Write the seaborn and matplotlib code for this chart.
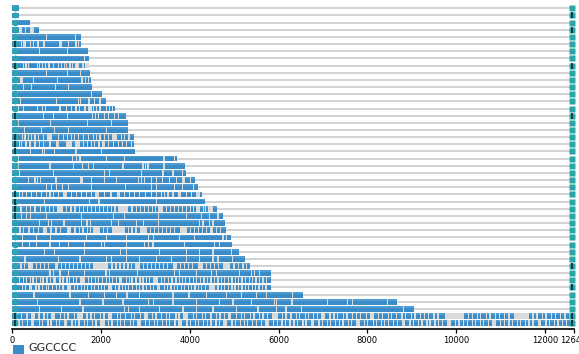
import matplotlib
matplotlib.use("Agg")
import matplotlib.pyplot as plt
import numpy as np
import pandas as pd
import seaborn as sns
from matplotlib.transforms import offset_copy
from matplotlib.patches import Rectangle

# ---------------- data ----------------
motif_name = "GGCCCC"
axis_end = 12640
tick_values = [0, 2000, 4000, 6000, 8000, 10000, 12000, 12640]
tick_labels = ["0", "2000", "4000", "6000", "8000", "10000", "12000", "12640"]

# extent of motif-covered region per sequence (top to bottom)
seq_lengths = [160, 160, 405, 607, 1550, 1550, 1710, 1730, 1730, 1750,
               1775, 1800, 2020, 2110, 2315, 2560, 2605, 2605, 2740, 2740,
               2765, 3710, 3890, 3910, 4110, 4180, 4270, 4340, 4610, 4740,
               4790, 4810, 4920, 4945, 5100, 5240, 5350, 5820, 5820, 5820,
               6540, 8670, 9055, 12640, 12640]

# rows whose start / end markers are dark
dark_start_rows = [5, 8, 15, 18, 19, 20, 26, 27, 28, 29, 43, 44]
dark_end_rows = [1, 3, 8, 15, 36, 39, 43, 44]

# gaps between motif hits per row (single value = thin gap, pair = wide gap)
gaps_01 = []
gaps_02 = []
gaps_03 = []
gaps_04 = [[160, 225], [295, 325], [405, 450], 475]
gaps_05 = [770, 1425]
gaps_06 = [218, [255, 308], 420, 480, [570, 615], 720, [1065, 1125], 1265, 1440, 1490]
gaps_07 = [615, 1250]
gaps_08 = [1625]
gaps_09 = [255, [300, 330], 367, 570, 615, 680, 750, [815, 850], 930, 1050, 1110, 1190,
           1230, 1305, 1355, [1415, 1500], 1600, 1665, [1695, 1730]]
gaps_10 = [770, 1245, 1550]
gaps_11 = [[180, 240], 480, 1020, 1575, 1650, 1725]
gaps_12 = [255, 443, 975, 1265]
gaps_13 = [1785]
gaps_14 = [195, 995, 1505, 1550, [1715, 1750], 1850, 1980]
gaps_15 = [140, 255, [555, 590], [670, 705], 760, [1065, 1110], 1230, 1340, 1440, 1515,
           [1620, 1665], [1715, 1790], 1830, 1905, 1980, 2130, 2200, 2265]
gaps_16 = [705, 930, 1245, 1815, 1880, 1940, 2090, 2165, 2315, 2390]
gaps_17 = [140, 870, 1695, 2240]
gaps_18 = [275, 660, 950, 1265, 2130]
gaps_19 = [240, 290, 367, 443, 517, 592, 705, [780, 890], 1040, 1155, [1230, 1265], 1340,
           1415, 1490, 1605, 1715, 1830, 1905, 1980, 2090, 2165, [2240, 2355], 2465, 2540,
           [2615, 2650]]
gaps_20 = [165, 218, 315, 405, 517, 615, 705, 855, [990, 1065], [1215, 1340], [1415, 1530],
           1605, 1695, 1790, 1865, 1960, [2015, 2090], 2165, 2280, 2390, 2490, 2580, 2690]
gaps_21 = [420, 690, 740, 965, 1440, 2015]
gaps_22 = [140, 1365, 1455, 1530, 2130, 2525, 3420, 3665]
gaps_23 = [140, 855, 1380, 1590, 1715, 1840, 2500, 2950, 3000, 3060, 3420]
gaps_24 = [165, 930, 2090, 2200, 2915, 3400, 3625, 3835]
gaps_25 = [367, 517, 570, 645, 990, [1530, 1590], 1790, 2090, 2355, 2840, 2915, 2990, 3140,
           3250, 3385, 3550, 3700, [3835, 3890], 4015]
gaps_26 = [780, 890, 1005, 1140, 1265, 1790, 2560, 3140, 3250, 3665, 3835, 4090]
gaps_27 = [164, 240, 330, 443, 555, 668, 780, 854, 929, 1040, [1153, 1229], 1341, 1454, 1566,
           1679, 1791, [1865, 1962], 2090, [2202, 2240], [2353, 2427], 2540, 2652, 2765, 2877,
           [2990, 3027], 3139, 3252, 3364, 3438, 3513, 3625, [3737, 3813], 3925, 4038, [4150, 4225]]
gaps_28 = [740, 1740, 1960, 3250]
gaps_29 = [200, 330, 420, 520, 640, 760, 850, 940, [1005, 1155], 1230, 1330, 1420, 1520, 1610,
           1700, 1790, 1880, 1970, 2060, 2150, 2240, 2320, [2390, 2610], 2700, 2800, 2890, 2980,
           3070, 3160, 3230, [3290, 3400], 3480, 3570, 3660, 3750, 3840, 3930, 4020, 4090,
           [4150, 4225], 4310, 4360, [4410, 4525]]
gaps_30 = [218, 330, 420, 780, 1565, 2290, 2540, 3290, 3925, 4260, 4450, 4635]
gaps_31 = [615, 815, 890, 1170, 1565, 1690, 1770, 2240, 2390, 2800, 2965, 3290, 4225, 4300,
           4450, 4525]
gaps_32 = [180, 260, 380, 480, 600, [700, 785], 880, 990, 1100, [1230, 1325], 1420, 1520, 1600,
           1700, 1760, [1830, 1980], 2060, 2150, [2240, 2540], 2620, 2700, 2790, [2875, 3030],
           3110, 3200, 3290, 3380, 3470, 3560, 3650, [3775, 3930], 4010, 4100, 4190, 4280, 4370,
           [4450, 4520], 4600, 4700]
gaps_33 = [240, 555, 870, 1680, 2130, 2580, 3065, 3190, 3775, 4110, 4750, 4825]
gaps_34 = [240, 390, 555, 855, 1065, 1265, 1640, 2015, 2090, 2580, 2990, 3065, 3175, 3890,
           4560, 4675]
gaps_35 = [740, 965, 1640, 2440, 2580, 3325, 3925, 4225, 4525, 4935]
gaps_36 = [290, 1040, 1530, 2130, 2240, 2580, 2875, 3250, 3590, 3925, 4225, 4525, 4635, 4970]
gaps_37 = [200, 280, [360, 475], 560, 650, 740, 830, [965, 1035], 1120, 1210, 1300, 1390, 1480,
           1570, 1660, 1750, [1830, 2160], 2250, 2340, 2430, 2520, 2610, 2690, [2765, 2875],
           2960, 3050, 3140, 3230, 3320, 3410, 3500, [3620, 3710], 3800, 3890, 3980, 4070,
           [4180, 4290], 4380, 4470, 4560, 4650, [4750, 4900], 5000, 5100, 5200, 5280]
gaps_38 = [855, 930, 1080, 1265, 1640, 2115, 2200, [2810, 2840], 3665, 3775, 4150, 4490, 4600,
           5125, 5385, 5460, 5575]
gaps_39 = [170, 260, 330, 420, 470, 560, 640, 700, 790, 860, [930, 1000], 1080, 1150, 1240,
           1290, 1380, 1460, [1540, 1640], 1720, 1790, 1880, 1950, 2030, 2120, 2190, 2260, 2350,
           [2410, 2480], 2570, 2640, 2700, 2790, 2880, 2950, 3030, 3100, [3180, 3290], 3370,
           3440, 3530, 3600, 3690, 3770, 3840, 3910, 4000, 4090, 4150, 4240, 4320, 4400, 4480,
           4550, 4640, 4710, 4790, 4880, 4950, 5030, 5100, 5180, 5260, 5340, 5420, 5490, 5570,
           5650, 5730]
gaps_40 = [230, 310, [380, 450], 540, 610, 690, 770, 830, 920, 1000, 1070, 1150, [1230, 1330],
           1410, 1480, 1560, 1640, 1700, 1790, 1860, 1940, 2020, 2090, [2170, 2240], 2330, 2410,
           2480, 2560, 2630, 2720, 2800, 2870, 2950, 3020, 3110, 3180, [3260, 3340], 3430, 3500,
           3580, 3660, 3730, 3810, 3890, 3970, 4040, 4120, 4200, 4270, 4350, [4430, 4560], 4640,
           4720, 4790, 4870, 4950, 5020, 5100, 5180, 5250, 5330, 5410, 5480, 5560, 5640, 5720]
gaps_41 = [495, 1305, 1715, 2090, 2355, 2590, 2875, 3625, 3985, 4375, 4825, 5160, 5500, 5725,
           6320]
gaps_42 = [570, 1530, 2050, 2500, 3065, 3190, 3625, 4150, 4675, 4975, 5385, 5910, 5950, 6285,
           6320, 7110, 7560, 7670, 8455]
gaps_43 = [615, 1115, 1600, 2540, 2615, 2875, 3325, 3850, 4150, 4525, 5050, 5535, 5950, 6170,
           6185, 6525, 8815]
gaps_44 = [130, 210, 340, [420, 520], 610, 720, 800, [880, 960], 1090, 1180, 1260, 1400,
           [1470, 1600], 1690, 1780, 1850, 1990, 2070, [2150, 2260], 2380, 2450, 2560, 2690,
           2760, 2900, [2980, 3060], 3170, 3240, 3370, 3480, 3550, 3690, 3760, [3840, 3960],
           4080, 4150, 4290, 4360, 4480, 4600, 4680, 4790, [4870, 4940], 5060, 5160, 5230, 5370,
           5450, 5580, 5650, 5760, [5850, 5990], 6090, 6170, 6280, 6400, 6470, 6600, 6680, 6790,
           6870, [6960, 7040], 7160, 7250, 7330, 7470, 7540, 7670, 7760, 7840, 7980,
           [8060, 8140], 8250, 8340, 8470, 8550, 8660, 8780, 8850, 8990, 9070, 9190, 9280, 9370,
           9500, 9590, [9750, 10180], 10270, 10360, 10480, 10550, 10680, 10760, 10890, 10970,
           11080, 11190, [11300, 11640], 11730, 11820, 11950, 12020, 12150, 12230, 12340, 12450,
           12560]
gaps_45 = [70, 160, 240, 350, [420, 500], 620, 690, 810, 880, 1000, 1070, [1160, 1240], 1350,
           1430, 1510, 1630, 1700, 1820, 1890, [1980, 2090], 2180, 2250, 2370, 2450, 2540, 2660,
           2730, [2820, 2900], 3010, 3090, 3200, 3270, 3380, 3470, 3550, 3670, [3740, 3830],
           3940, 4010, 4130, 4200, 4310, 4400, 4480, 4590, 4670, [4760, 4840], 4950, 5030, 5140,
           5230, 5300, 5420, 5500, 5610, [5690, 5790], 5890, 5970, 6080, 6150, 6260, 6350, 6430,
           6550, 6620, [6720, 6800], 6910, 6990, 7100, 7170, 7290, 7370, 7450, 7570, 7640,
           [7740, 7830], 7930, 8010, 8130, 8200, 8310, 8390, 8480, 8590, 8670, [8770, 8850],
           8960, 9040, 9150, 9230, 9340, 9410, 9520, 9600, 9690, [9790, 9880], 9980, 10060,
           10170, 10250, 10360, 10430, 10540, 10620, 10720, [10810, 10900], 11000, 11080, 11190,
           11270, 11380, 11450, 11560, 11640, 11730, [11830, 11910], 12020, 12100, 12210, 12290,
           12400, 12480, 12570]

all_gaps = [gaps_01, gaps_02, gaps_03, gaps_04, gaps_05, gaps_06, gaps_07, gaps_08, gaps_09,
            gaps_10, gaps_11, gaps_12, gaps_13, gaps_14, gaps_15, gaps_16, gaps_17, gaps_18,
            gaps_19, gaps_20, gaps_21, gaps_22, gaps_23, gaps_24, gaps_25, gaps_26, gaps_27,
            gaps_28, gaps_29, gaps_30, gaps_31, gaps_32, gaps_33, gaps_34, gaps_35, gaps_36,
            gaps_37, gaps_38, gaps_39, gaps_40, gaps_41, gaps_42, gaps_43, gaps_44, gaps_45]

# ---------------- style ----------------
BLUE = "#3a8cc8"
BLUE_TOP = "#4f9bd3"
BG = "#dadada"
LINE = "#c6c6c6"
TEAL = "#2aa5a8"
DARK = "#0a2a2a"
THIN = 14  # half-width of a thin separator, data units

sns.set_style("white")
plt.rcParams["font.family"] = ["DejaVu Sans"]

W, H = 579, 354
fig = plt.figure(figsize=(W / 100, H / 100), dpi=100)
ax = fig.add_axes([12 / W, (H - 329.3) / H, (573.5 - 12) / W, (329.3 - 4) / H])

n = len(seq_lengths)
names = [f"seq{i + 1}" for i in range(n)]
df = pd.DataFrame({"seq": names, "length": seq_lengths})
rows = np.arange(n)

# full-length sequence lines
ax.hlines(rows, 0, axis_end, color=LINE, lw=1.1, zorder=1)

# light background of the motif-covered region
bar_h = 0.8
sns.barplot(data=df, x="length", y="seq", order=names, orient="h", color=BG,
            width=bar_h, saturation=1, ax=ax, zorder=2, linewidth=0)

# blue motif segments
for i, (L, g) in enumerate(zip(seq_lengths, all_gaps)):
    cuts = []
    for item in g:
        if isinstance(item, list):
            cuts.append((item[0], item[1]))
        else:
            cuts.append((item - THIN, item + THIN))
    cuts.sort()
    segs = []
    pos = 0
    for a, b in cuts:
        a = max(a, 0)
        b = min(b, L)
        if a > pos:
            segs.append((pos, a - pos))
        pos = max(pos, b)
    if pos < L:
        segs.append((pos, L - pos))
    ax.broken_barh(segs, (i - bar_h / 2, bar_h), facecolors=BLUE, edgecolor="none", zorder=3)
    ax.broken_barh(segs, (i - bar_h / 2, bar_h * 0.3), facecolors=BLUE_TOP, edgecolor="none",
                   zorder=3.5)

# start / end markers
tr_left = offset_copy(ax.transData, fig=fig, x=2.5, y=0, units="dots")
tr_right = offset_copy(ax.transData, fig=fig, x=-2.0, y=0, units="dots")
ax.plot(np.zeros(n), rows, "o", ms=4.2, color=TEAL, mec="none", transform=tr_left,
        zorder=5, clip_on=False)
ax.plot(np.full(n, axis_end), rows, "s", ms=3.8, color=TEAL, mec="none", transform=tr_right,
        zorder=5, clip_on=False)
tr_ldark = offset_copy(ax.transData, fig=fig, x=3.0, y=0, units="dots")
tr_rdark = offset_copy(ax.transData, fig=fig, x=-2.0, y=0, units="dots")
ax.plot(np.zeros(len(dark_start_rows)), dark_start_rows, "|", ms=4.2, mew=1.2, color=DARK,
        transform=tr_ldark, zorder=6, clip_on=False)
ax.plot(np.full(len(dark_end_rows), axis_end), dark_end_rows, "|", ms=4.2, mew=1.2, color=DARK,
        transform=tr_rdark, zorder=6, clip_on=False)

# axes cosmetics
ax.set_xlim(0, axis_end)
ax.set_ylim(n - 1 + 0.84, -0.6)
ax.set_yticks([])
ax.set_ylabel("")
ax.set_xlabel("")
ax.set_xticks(tick_values)
ax.set_xticklabels(tick_labels, fontsize=6)
ax.tick_params(axis="x", length=3, width=0.9, pad=2, colors="black", bottom=True)
for s in ["top", "right", "left"]:
    ax.spines[s].set_visible(False)
ax.spines["bottom"].set_color("black")
ax.spines["bottom"].set_linewidth(1.2)

# legend
fig.add_artist(Rectangle((12.5 / W, 0.5 / H), 11.5 / W, 9 / H, transform=fig.transFigure,
                         facecolor=BLUE, edgecolor="none"))
fig.text(28 / W, 1.2 / H, motif_name, fontsize=8, ha="left", va="bottom", color="#222222")

fig.savefig("out.png", dpi=100)
